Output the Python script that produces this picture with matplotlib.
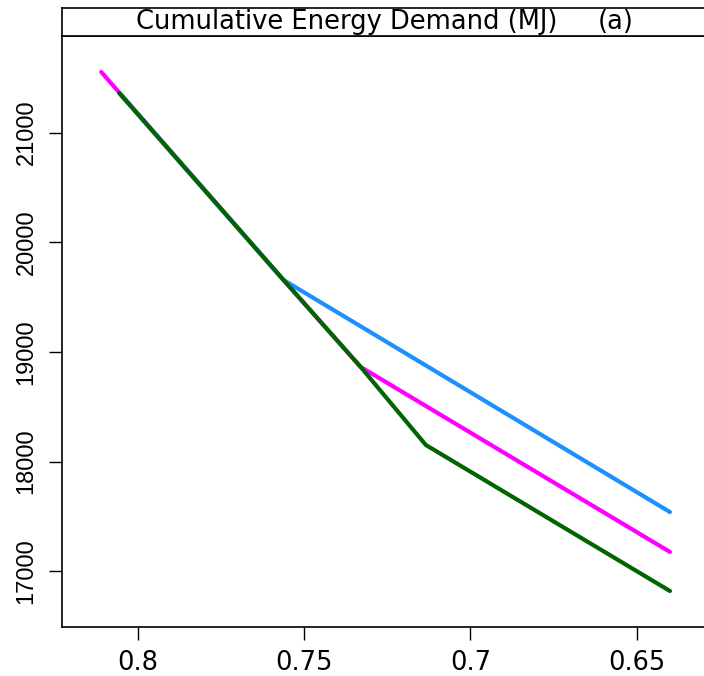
import matplotlib
matplotlib.use("Agg")
import matplotlib.pyplot as plt

plt.rcParams['font.family'] = ['Liberation Sans', 'DejaVu Sans']

title = "Cumulative Energy Demand (MJ)"
panel = "(a)"
xticks = [0.8, 0.75, 0.7, 0.65]
xticklabels = ["0.8", "0.75", "0.7", "0.65"]
yticks = [17000, 18000, 19000, 20000, 21000]
yticklabels = ["17000", "18000", "19000", "20000", "21000"]

magenta_x = [0.811, 0.7562, 0.733, 0.640]
magenta_y = [21552, 19656, 18863, 17177]
blue_x = [0.8056, 0.7562, 0.640]
blue_y = [21361, 19656, 17541]
green_x = [0.8056, 0.7562, 0.733, 0.7134, 0.640]
green_y = [21361, 19656, 18863, 18152, 16821]

W, H = 704, 676
fig = plt.figure(figsize=(W / 100, H / 100), dpi=100)

left_px, right_px, top_px, bottom_px, strip_top_px = 62, 707, 36, 627, 8
ax = fig.add_axes([left_px / W, 1 - bottom_px / H, (right_px - left_px) / W, (bottom_px - top_px) / H])
ax.plot(magenta_x, magenta_y, color='#FF00FF', lw=3.0, solid_capstyle='round', solid_joinstyle='round')
ax.plot(blue_x, blue_y, color='#1E8FFF', lw=3.0, solid_capstyle='round', solid_joinstyle='round')
ax.plot(green_x, green_y, color='#006400', lw=3.0, solid_capstyle='round', solid_joinstyle='round')

ax.set_xlim(0.8228, 0.62886)
ax.set_ylim(16493, 21880)
ax.set_xticks(xticks)
ax.set_xticklabels(xticklabels, family=['DejaVu Sans'], fontsize=18.5)
ax.set_yticks(yticks)
ax.set_yticklabels(yticklabels, rotation=90, va='center', fontsize=17)
ax.tick_params(axis='both', direction='out', length=9.5, width=1.0)
ax.tick_params(axis='x', pad=7)
ax.tick_params(axis='y', pad=8)
for s in ax.spines.values():
    s.set_linewidth(1.2)

sax = fig.add_axes([left_px / W, 1 - top_px / H, (right_px - left_px) / W, (top_px - strip_top_px) / H])
sax.set_xlim(left_px, right_px)
sax.set_ylim(0, 1)
sax.set_xticks([])
sax.set_yticks([])
for s in sax.spines.values():
    s.set_linewidth(1.2)
sax.text(347, 0.5, title, ha='center', va='center', fontsize=18.5, family=['DejaVu Sans'])
sax.text(616, 0.5, panel, ha='center', va='center', fontsize=18.5, family=['DejaVu Sans'])

fig.savefig("out.png", dpi=100)
